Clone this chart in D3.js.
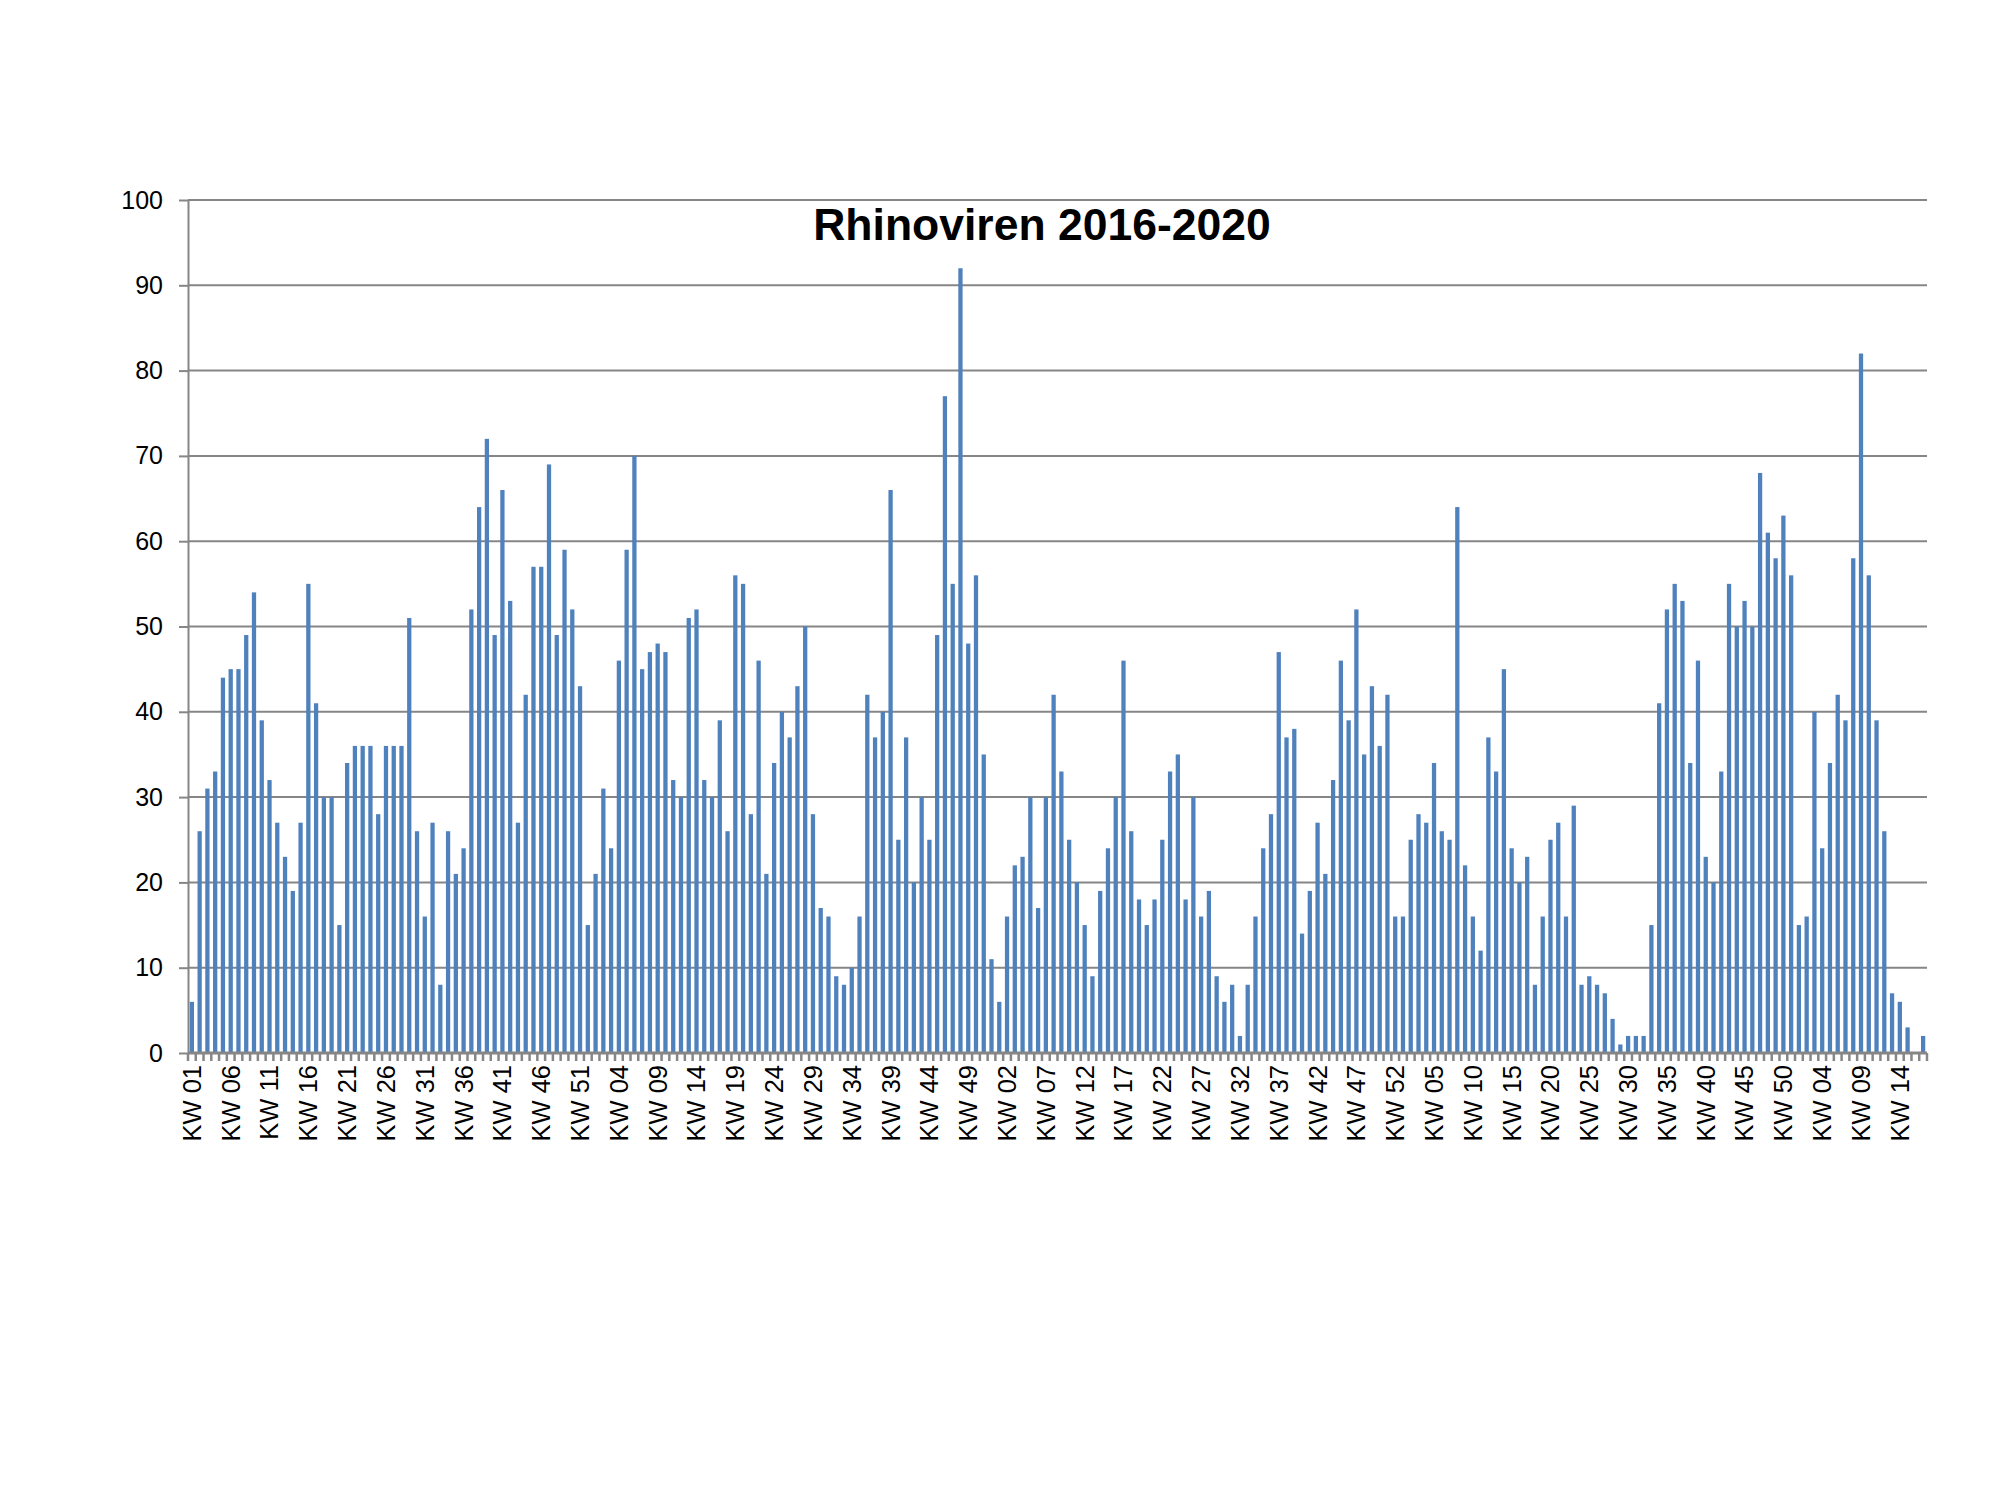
<!DOCTYPE html>
<html>
<head>
<meta charset="utf-8">
<script src="https://cdn.jsdelivr.net/npm/d3@7"></script>
<style>
  html, body { margin: 0; padding: 0; background: #ffffff; }
  svg { display: block; }
</style>
</head>
<body>
<script>
// ---- data ----
const chartTitle = "Rhinoviren 2016-2020";
const weeks2016 = d3.range(1, 53);   // KW 01 - KW 52
const weeks2017 = d3.range(1, 53);   // KW 01 - KW 52
const weeks2018 = d3.range(1, 53);   // KW 01 - KW 52
const weeks2019 = d3.range(1, 53);   // KW 01 - KW 52
const weeks2020 = d3.range(2, 18);   // KW 02 - KW 17

const values2016 = [6,26,31,33,44,45,45,49,54,39, 32,27,23,19,27,55,41,30,30,15,
                    34,36,36,36,28,36,36,36,51,26, 16,27,8,26,21,24,52,64,72,49,
                    66,53,27,42,57,57,69,49,59,52, 43,15];
const values2017 = [21,31,24,46,59,70,45,47,48,47, 32,30,51,52,32,30,39,26,56,55,
                    28,46,21,34,40,37,43,50,28,17, 16,9,8,10,16,42,37,40,66,25,
                    37,20,30,25,49,77,55,92,48,56, 35,11];
const values2018 = [6,16,22,23,30,17,30,42,33,25, 20,15,9,19,24,30,46,26,18,15,
                    18,25,33,35,18,30,16,19,9,6, 8,2,8,16,24,28,47,37,38,14,
                    19,27,21,32,46,39,52,35,43,36, 42,16];
const values2019 = [16,25,28,27,34,26,25,64,22,16, 12,37,33,45,24,20,23,8,16,25,
                    27,16,29,8,9,8,7,4,1,2, 2,2,15,41,52,55,53,34,46,23,
                    20,33,55,50,53,50,68,61,58,63, 56,15];
const values2020 = [16,40,24,34,42,39,58,82,56,39, 26,7,6,3,0,2];

const yTicks = [0,10,20,30,40,50,60,70,80,90,100];

// ---- build table ----
const weekLabel = w => "KW " + String(w).padStart(2, "0");
const rows = [];
[[2016, weeks2016, values2016], [2017, weeks2017, values2017], [2018, weeks2018, values2018],
 [2019, weeks2019, values2019], [2020, weeks2020, values2020]].forEach(([yr, wk, vals]) => {
  wk.forEach((w, i) => rows.push({ id: yr + "-" + w, label: weekLabel(w), value: vals[i] }));
});

// ---- layout ----
const W = 2001, H = 1501;
const plotLeft = 188, plotRight = 1927, plotTop = 200, plotBottom = 1053;
const barColor = "#4F81BD", gridColor = "#868686";
const tickFont = "'Liberation Sans', Arial, sans-serif";

const svg = d3.select("body").append("svg").attr("width", W).attr("height", H);
svg.append("rect").attr("width", W).attr("height", H).attr("fill", "#fff");

const x = d3.scaleBand().domain(rows.map(d => d.id)).range([plotLeft, plotRight])
  .paddingInner(0.45).paddingOuter(0.225);
const y = d3.scaleLinear().domain([0, 100]).range([plotBottom, plotTop]);

// gridlines
svg.append("g").selectAll("line").data(yTicks.filter(t => t > 0)).join("line")
  .attr("x1", plotLeft).attr("x2", plotRight)
  .attr("y1", d => y(d)).attr("y2", d => y(d))
  .attr("stroke", gridColor).attr("stroke-width", 2);

// bars
svg.append("g").selectAll("rect").data(rows).join("rect")
  .attr("x", d => x(d.id)).attr("width", x.bandwidth())
  .attr("y", d => y(d.value)).attr("height", d => y(0) - y(d.value))
  .attr("fill", barColor);

// y axis
const yAxis = svg.append("g").attr("transform", `translate(${plotLeft},0)`)
  .call(d3.axisLeft(y).tickValues(yTicks).tickSizeInner(9).tickSizeOuter(0).tickPadding(16));
yAxis.select(".domain").attr("stroke", gridColor).attr("stroke-width", 2);
yAxis.selectAll(".tick line").attr("stroke", gridColor).attr("stroke-width", 2);
yAxis.selectAll(".tick text").attr("font-family", tickFont).attr("font-size", 25).attr("fill", "#000");

// x axis line
svg.append("line").attr("x1", plotLeft).attr("x2", plotRight).attr("y1", plotBottom).attr("y2", plotBottom)
  .attr("stroke", gridColor).attr("stroke-width", 3);

// x tick marks between categories
const step = x.step();
const boundaries = rows.map(d => x(d.id) - (step - x.bandwidth()) / 2).concat([plotRight]);
svg.append("g").selectAll("line").data(boundaries).join("line")
  .attr("x1", d => d).attr("x2", d => d)
  .attr("y1", plotBottom).attr("y2", plotBottom + 8)
  .attr("stroke", gridColor).attr("stroke-width", 2.5);

// x labels (every 5th category)
svg.append("g").selectAll("text").data(rows.filter((d, i) => i % 5 === 0)).join("text")
  .attr("transform", d => `translate(${x(d.id) + x.bandwidth() / 2},${plotBottom + 12}) rotate(-90)`)
  .attr("text-anchor", "end").attr("dy", "0.35em")
  .attr("font-family", tickFont).attr("font-size", 25.5).attr("fill", "#000")
  .text(d => d.label);

// title
svg.append("text").attr("x", 1042).attr("y", 240).attr("text-anchor", "middle")
  .attr("font-family", "'Liberation Sans', Arial, sans-serif").attr("font-weight", "bold")
  .attr("font-size", 44.5).attr("fill", "#000").text(chartTitle);
</script>
</body>
</html>
